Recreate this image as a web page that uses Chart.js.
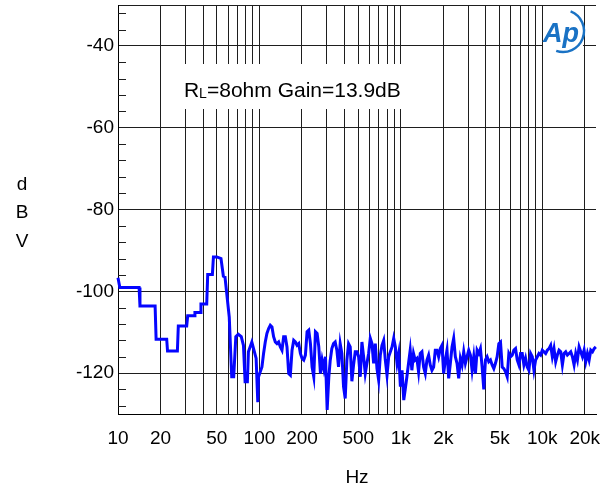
<!DOCTYPE html>
<html>
<head>
<meta charset="utf-8">
<script src="https://cdn.jsdelivr.net/npm/chart.js@4"></script>
<style>
  html, body { margin: 0; padding: 0; background: #fff; }
  canvas { display: block; }
</style>
</head>
<body>
<canvas id="noise" width="605" height="489"></canvas>
<script>
var freqHz = [
  10, 10.3, 14.1, 14.3, 18.3, 18.6, 22.1, 22.4, 26.3, 26.7, 30.6, 31.1, 34.5, 35, 38.1, 38.6,
  42.4, 43.1, 46.5, 47.3, 50, 53.5, 55.6, 57.1, 61.2, 63.7, 65.8, 68.1, 70.9, 74.4, 77.1, 79.2,
  82.2, 83.6, 88.4, 92.2, 94.8, 97.4, 98.6, 101.4, 104.2, 107, 110, 113, 116.2, 119.4, 122.7, 126,
  129.5, 133.1, 136.8, 140.6, 144.4, 148.4, 152.5, 156.7, 161.1, 165.5, 170.1, 174.8, 179.6, 184.6, 189.7, 194.9,
  200.3, 205.8, 211.5, 217.3, 223.3, 229.5, 235.8, 242.3, 249, 255.9, 263, 270.2, 277.7, 285.3, 293.2, 301.3,
  309.6, 316.5, 325.2, 334.2, 343.4, 352.9, 362.6, 372.6, 382.9, 393.5, 404.3, 415.5, 427, 438.7, 450.8, 463.3,
  476.1, 489.2, 502.7, 516.6, 530.8, 545.5, 560.5, 576, 591.9, 608.2, 625, 642.3, 660, 678.2, 696.9, 716.2,
  735.9, 756.3, 777.1, 798.6, 820.6, 843.3, 866.6, 890.5, 915.1, 940.4, 966.3, 993, 1020, 1049, 1074, 1104,
  1134, 1165, 1197, 1230, 1264, 1299, 1335, 1372, 1410, 1449, 1489, 1530, 1572, 1615, 1660, 1706,
  1753, 1801, 1851, 1902, 1955, 2009, 2064, 2121, 2180, 2240, 2302, 2365, 2430, 2497, 2566, 2637,
  2710, 2785, 2862, 2941, 3022, 3105, 3191, 3279, 3370, 3463, 3558, 3656, 3757, 3861, 3967, 4077,
  4189, 4305, 4424, 4546, 4671, 4800, 4933, 5069, 5209, 5353, 5500, 5652, 5808, 5968, 6133, 6302,
  6476, 6655, 6839, 7027, 7221, 7421, 7626, 7836, 8052, 8275, 8503, 8738, 8979, 9227, 9481, 9743,
  10012, 10288, 10572, 10864, 11164, 11472, 11789, 12114, 12448, 12792, 13145, 13508, 13881, 14264, 14658, 15062,
  15478, 15905, 16344, 16796, 17259, 17735, 18225, 18728, 19245, 19776, 20322, 20883, 21459, 22052, 22660, 23286,
  23929
];
var levelDbV = [
  -96.7, -99.1, -99.1, -103.6, -103.6, -111.7, -111.7, -114.6, -114.6, -108.5, -108.5, -106, -106, -105.2, -105.2, -103.1,
  -103.1, -95.9, -95.9, -91.6, -91.6, -92, -96.3, -96.5, -106.3, -120.9, -120.9, -111.1, -110.5, -111.1, -113.2, -122.1,
  -122.1, -114.8, -112.4, -114.8, -116.4, -127.1, -120.9, -119.7, -118.5, -115.2, -112.4, -110.3, -109.1, -108.3, -108.7, -111.1,
  -112.4, -112.8, -112.4, -113.6, -114.4, -111.1, -111.1, -113.6, -120.1, -120.5, -114.4, -112, -112.4, -113.2, -112.8, -115.2,
  -116.4, -116.8, -115.6, -109.9, -109.5, -112.8, -118.5, -120.9, -109.9, -110.3, -113.6, -120.1, -116.8, -118.9, -116, -129,
  -121, -117, -114, -112.8, -112.4, -114.4, -118.5, -112.8, -115.2, -123.3, -126.2, -116.8, -112.8, -113.6, -122, -118,
  -114.8, -114.8, -116, -120.9, -112.4, -116, -120.1, -117.6, -115.2, -111.5, -112.8, -117.6, -112.8, -118.9, -121.7, -115.6,
  -113.2, -112, -116.8, -120.5, -116, -114.8, -113.6, -111.5, -113.6, -117.6, -115.2, -123.3, -119.3, -126.6, -124, -120.9,
  -117.6, -114.4, -119.3, -115.2, -116.8, -116.4, -119.7, -115.2, -114.8, -118.5, -120.1, -116.8, -115.6, -118, -119.3, -118.5,
  -114.4, -114.4, -116, -114, -113.2, -120.1, -116.8, -114.4, -121.3, -117.6, -113.6, -111.5, -116, -117.6, -121.3, -116.4,
  -118, -114.8, -117.6, -116, -114.4, -115.6, -119.3, -116, -120.1, -114.4, -115.2, -114, -118.5, -124, -116.8, -116,
  -117.2, -116.8, -118, -118.9, -117.6, -116, -112.8, -112.4, -118.5, -118.9, -119.7, -120.9, -115.2, -116, -115.6, -114.4,
  -114, -116.8, -118, -115.2, -115.2, -118, -116.4, -118.5, -119.3, -115.2, -116, -119.3, -116.8, -116, -115.2, -115.6,
  -114.4, -114.8, -115.2, -114.4, -114, -113.2, -116, -114, -117.2, -115.6, -114.4, -114.8, -118, -115.2, -114.8, -115.6,
  -115.2, -114.8, -116, -118, -115.2, -116.8, -113.6, -114.8, -116, -114.4, -117.2, -115.2, -116.8, -114.4, -114.8, -114,
  -113.6
];

// axis ticks
var xGridHz = [10, 20, 30, 40, 50, 60, 70, 80, 90, 100, 200, 300, 400, 500, 600, 700, 800, 900,
  1000, 2000, 3000, 4000, 5000, 6000, 7000, 8000, 9000, 10000, 20000];
var xLabels = {10: '10', 20: '20', 50: '50', 100: '100', 200: '200', 500: '500',
  1000: '1k', 2000: '2k', 5000: '5k', 10000: '10k', 20000: '20k'};
var yGridDb = [-130, -120, -100, -80, -60, -40, -30];
var yLabelDb = [-120, -100, -80, -60, -40];
var yMinorDb = [-128, -124, -116, -112, -108, -104, -96, -92, -88, -84, -76, -72, -68, -64, -56, -52, -48, -44, -36, -32];

var FONT = "'Liberation Sans', Arial, sans-serif";
var gridCol = '#1e1e1e';

const extras = {
  id: 'extras',
  afterDraw(chart) {
    const ctx = chart.ctx;
    const area = chart.chartArea;
    const y = chart.scales.y;
    ctx.save();
    // minor ticks on left edge
    ctx.strokeStyle = gridCol;
    ctx.lineWidth = 1;
    yMinorDb.forEach(v => {
      const py = Math.round(y.getPixelForValue(v)) + 0.5;
      ctx.beginPath();
      ctx.moveTo(area.left, py);
      ctx.lineTo(area.left + 8, py);
      ctx.stroke();
    });

    // annotation box
    ctx.fillStyle = '#fff';
    ctx.fillRect(176, 64, 240, 45);
    ctx.fillStyle = '#000';
    ctx.textBaseline = 'alphabetic';
    ctx.textAlign = 'left';
    ctx.font = '21px ' + FONT;
    ctx.fillText('R', 184, 97);
    ctx.font = '14px ' + FONT;
    ctx.fillText('L', 199, 98);
    ctx.font = '21px ' + FONT;
    ctx.fillText('=8ohm Gain=13.9dB', 207, 97);

    // y title, stacked letters
    ctx.font = '19px ' + FONT;
    ctx.textAlign = 'center';
    ctx.textBaseline = 'middle';
    ctx.fillText('d', 22, 185);
    ctx.fillText('B', 22, 213);
    ctx.fillText('V', 22, 242);

    // Ap logo
    ctx.fillStyle = '#fff';
    ctx.fillRect(543, 10, 40, 45);
    ctx.fillStyle = '#1a72c4';
    ctx.font = 'italic bold 27px ' + FONT;
    ctx.textAlign = 'left';
    ctx.textBaseline = 'alphabetic';
    ctx.fillText('Ap', 543, 42);
    ctx.strokeStyle = '#1a72c4';
    ctx.lineWidth = 2.5;
    ctx.beginPath();
    ctx.arc(563, 31, 21, -1.2, 1.9);
    ctx.stroke();
    ctx.restore();
  }
};

new Chart(document.getElementById('noise'), {
  type: 'scatter',
  data: {
    datasets: [{
      data: freqHz.map((f, i) => ({x: f, y: levelDbV[i]})),
      showLine: true,
      borderColor: '#0505ff',
      borderWidth: 3,
      pointRadius: 0,
      tension: 0,
      clip: false
    }]
  },
  options: {
    responsive: false,
    animation: false,
    devicePixelRatio: 1,
    layout: { padding: { left: 0, right: 9, top: 5, bottom: 0 } },
    plugins: { legend: { display: false }, tooltip: { enabled: false } },
    scales: {
      x: {
        type: 'logarithmic',
        min: 10,
        max: 24000,
        afterBuildTicks: s => { s.ticks = xGridHz.map(v => ({value: v})); },
        afterFit: s => { s.height = 75; s.paddingLeft = 0; s.paddingRight = 0; },
        grid: { color: gridCol, lineWidth: 1, drawTicks: false },
        border: { color: '#000', width: 1 },
        ticks: {
          autoSkip: false, maxRotation: 0,
          color: '#000', font: { family: FONT, size: 19 }, padding: 13,
          callback: v => xLabels[v] || ''
        },
        title: { display: true, text: 'Hz', color: '#000', font: { family: FONT, size: 19 }, padding: { top: 0, bottom: 0 } }
      },
      y: {
        min: -130,
        max: -30,
        afterBuildTicks: s => { s.ticks = yGridDb.map(v => ({value: v})); },
        afterFit: s => { s.width = 118; s.paddingTop = 0; s.paddingBottom = 0; },
        grid: { color: gridCol, lineWidth: 1, drawTicks: false },
        border: { color: '#000', width: 1 },
        ticks: {
          autoSkip: false,
          color: '#000', font: { family: FONT, size: 19 }, padding: 4,
          callback: v => yLabelDb.indexOf(v) >= 0 ? String(v) : ''
        }
      }
    }
  },
  plugins: [extras]
});
</script>
</body>
</html>
